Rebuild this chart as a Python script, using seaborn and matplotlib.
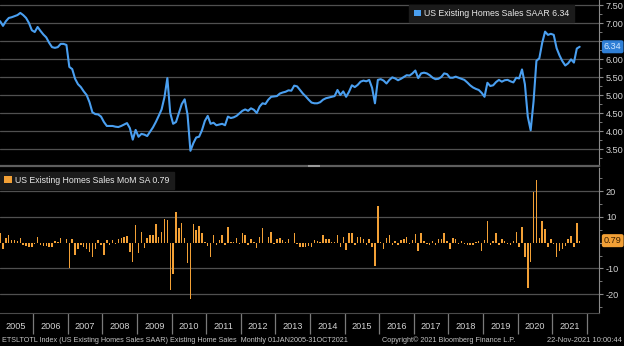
import numpy as np
import pandas as pd
import matplotlib
matplotlib.use("Agg")
import matplotlib.pyplot as plt
import seaborn as sns
from matplotlib.patches import Patch, Rectangle
from matplotlib.ticker import FixedLocator, MultipleLocator, FuncFormatter

# Monthly data, Jan 2005 - Oct 2021
start_year = 2005
sales_saar = [
    7.05, 6.92, 7.05, 7.14, 7.16, 7.19, 7.22, 7.28, 7.22, 7.14,
    7.00, 6.80, 6.75, 6.89, 6.78, 6.68, 6.60, 6.45, 6.33, 6.31,
    6.33, 6.42, 6.42, 6.39, 5.78, 5.72, 5.45, 5.30, 5.22, 5.10,
    5.00, 4.80, 4.52, 4.47, 4.46, 4.40, 4.25, 4.14, 4.14, 4.14,
    4.12, 4.11, 4.14, 4.18, 4.22, 4.08, 3.76, 4.03, 3.84, 3.92,
    3.90, 3.86, 3.98, 4.10, 4.25, 4.42, 4.60, 4.94, 5.47, 4.50,
    4.20, 4.25, 4.50, 4.75, 4.88, 4.45, 3.45, 3.66, 3.82, 3.84,
    4.02, 4.28, 4.42, 4.20, 4.23, 4.16, 4.18, 4.20, 4.16, 4.40,
    4.36, 4.38, 4.42, 4.49, 4.56, 4.60, 4.56, 4.63, 4.59, 4.50,
    4.68, 4.77, 4.75, 4.87, 4.95, 4.96, 4.97, 5.04, 5.07, 5.09,
    5.13, 5.12, 5.26, 5.24, 5.14, 5.04, 4.96, 4.87, 4.79, 4.77,
    4.77, 4.80, 4.87, 4.91, 4.93, 4.95, 4.97, 5.14, 5.00, 5.10,
    4.95, 5.09, 5.27, 5.22, 5.28, 5.37, 5.40, 5.38, 5.42, 5.20,
    4.77, 5.42, 5.44, 5.40, 5.32, 5.42, 5.49, 5.46, 5.41, 5.45,
    5.50, 5.55, 5.54, 5.60, 5.68, 5.47, 5.60, 5.62, 5.60, 5.55,
    5.48, 5.44, 5.45, 5.50, 5.60, 5.58, 5.48, 5.48, 5.51, 5.48,
    5.45, 5.42, 5.35, 5.27, 5.21, 5.17, 5.14, 5.06, 4.95, 5.34,
    5.25, 5.27, 5.36, 5.42, 5.37, 5.41, 5.42, 5.38, 5.35, 5.48,
    5.46, 5.71, 5.30, 4.40, 4.02, 4.82, 5.95, 6.02, 6.45, 6.76,
    6.67, 6.70, 6.67, 6.30, 6.10, 5.94, 5.82, 5.88, 5.99, 5.90,
    6.29, 6.34,
]
sales_mom = [
    3.6, -2.6, 1.7, 3.0, 1.0, 1.0, 0.5, 1.7, -1.0, -1.3,
    -1.5, -1.8, -0.6, 2.3, -0.9, -1.3, -1.3, -1.5, -1.8, 0.5,
    0.3, 1.7, -0.3, 1.3, -10.0, 1.3, -4.8, -2.6, -1.0, -1.5,
    -2.6, -3.5, -5.4, -2.6, 0.9, -0.8, -4.8, 0.9, -0.8, 0.9,
    -0.4, 1.3, 2.0, 2.3, 2.6, -3.5, -7.4, 6.9, -4.1, 4.3,
    -2.2, 1.7, 3.0, 3.0, 7.2, 2.3, 4.3, 9.2, 9.0, -18.4,
    -12.2, 12.0, 5.6, 7.8, 1.7, -8.0, -22.0, 7.2, 4.9, 6.5,
    3.9, 0.2, -1.2, -5.4, 3.0, -0.9, 1.0, 3.0, -0.8, 6.2,
    0.3, 0.4, 1.7, -0.5, 3.6, 3.0, -0.8, 1.6, 0.4, -2.2,
    2.3, 5.6, -0.3, 2.3, 4.0, -0.5, 1.6, 2.0, 1.0, 0.4,
    1.3, -0.3, 3.6, -0.4, -1.8, -1.8, -1.8, -1.3, -1.5, 1.0,
    0.8, 0.4, 2.8, 1.3, 1.3, 0.2, 0.3, 2.8, -1.8, 2.3,
    -2.8, 3.9, 3.9, -0.9, 2.3, 2.3, 1.6, -0.9, 1.5, -1.8,
    -9.0, 14.4, 0.3, -2.6, 1.8, 2.8, -0.9, 0.8, -1.0, 1.0,
    1.6, 2.3, -0.5, 1.0, 3.2, -3.4, 3.6, 0.8, -0.5, -1.0,
    0.8, -0.9, 1.3, 1.3, 3.6, 0.8, -2.3, 1.8, 1.3, -0.5,
    0.5, -0.5, -1.0, -0.8, -1.0, 0.1, 0.8, -3.1, 0.9, 8.4,
    -1.0, 0.8, 3.6, -0.8, 1.5, 0.8, -0.5, -0.8, 0.5, 4.1,
    -1.6, 6.0, -5.7, -17.7, -7.5, 19.5, 24.3, 1.7, 8.5, 5.2,
    -1.5, 1.3, -0.4, -5.7, -3.1, -2.3, -1.3, 1.6, 2.6, -1.5,
    7.5, 0.79,
]
year_labels = [str(y) for y in range(2005, 2022)]
saar_ticks = [3.5, 4.0, 4.5, 5.0, 5.5, 6.0, 6.5, 7.0, 7.5]
mom_ticks = [-20, -10, 0, 10, 20]

saar_name = "US Existing Homes Sales SAAR"
mom_name = "US Existing Homes Sales MoM SA"
footer_left = ("ETSLTOTL Index (US Existing Homes Sales SAAR) Existing Home Sales  "
               "Monthly 01JAN2005-31OCT2021")
footer_mid = "Copyright\u00a9 2021 Bloomberg Finance L.P."
footer_right = "22-Nov-2021 10:00:44"

n = len(sales_saar)
df = pd.DataFrame({
    "t": start_year + (np.arange(n) + 0.5) / 12.0,
    "saar": sales_saar,
    "mom": sales_mom,
})

BLUE = "#4a9ff0"
ORANGE = "#f2a036"
GRID = "#505050"
TXT = "#d2d2d2"
AXIS = "#8a8a8a"

sns.set_style("dark")
plt.rcParams["font.family"] = ["Liberation Sans", "DejaVu Sans"]
plt.rcParams["axes.facecolor"] = "black"
plt.rcParams["figure.facecolor"] = "black"

W, H = 624, 346
fig = plt.figure(figsize=(W / 100, H / 100), dpi=100, facecolor="black")
ax1 = fig.add_axes([0, (H - 166) / H, 599 / W, 166 / H])
ax2 = fig.add_axes([0, (H - 313) / H, 599 / W, 145 / H])

xlim = (2005.038, 2022.35)

# ---- upper panel: level series
sns.lineplot(data=df, x="t", y="saar", ax=ax1, color=BLUE, linewidth=1.5, zorder=3)
ax1.set_xlim(*xlim)
ax1.set_ylim(3.028, 7.639)
ax1.yaxis.tick_right()
ax1.yaxis.set_major_locator(FixedLocator(saar_ticks))
ax1.yaxis.set_minor_locator(MultipleLocator(0.25))
# the level tag covers the 6.50 label
ax1.yaxis.set_major_formatter(FuncFormatter(
    lambda v, p: "" if abs(v - 6.5) < 1e-6 else f"{v:.2f}"))
ax1.grid(axis="y", which="major", color=GRID, linewidth=0.9)
ax1.grid(axis="x", visible=False)
ax1.set_xticks([])
ax1.set_xlabel("")
ax1.set_ylabel("")

# ---- lower panel: month-over-month change bars
sns.barplot(data=df, x="t", y="mom", ax=ax2, native_scale=True, orient="x",
            color=ORANGE, saturation=1, width=0.5, errorbar=None, zorder=3,
            edgecolor="none", linewidth=0)
ax2.set_xlim(*xlim)
ax2.set_ylim(-27.3, 29.0)
ax2.yaxis.tick_right()
ax2.yaxis.set_major_locator(FixedLocator(mom_ticks))
ax2.yaxis.set_minor_locator(MultipleLocator(5))
# the change tag covers the 0 label
ax2.yaxis.set_major_formatter(FuncFormatter(
    lambda v, p: "" if abs(v) < 1e-6 else f"{v:.0f}"))
ax2.grid(False)
for v in mom_ticks:
    if v != 0:
        ax2.axhline(v, color=GRID, linewidth=0.9, zorder=1)
ax2.set_xlabel("")
ax2.set_ylabel("")

# year labels centred in each year, separators at year boundaries
ax2.xaxis.set_major_locator(FixedLocator([int(y) + 0.5 for y in year_labels]))
ax2.set_xticklabels(year_labels)
ax2.xaxis.set_minor_locator(FixedLocator(list(range(2006, 2023))))
ax2.tick_params(axis="x", which="major", bottom=True, length=0, pad=6.5,
                labelsize=6.6, labelcolor=TXT)
ax2.tick_params(axis="x", which="minor", bottom=True, length=15, width=0.9,
                color="#7a7a7a", direction="out")

for ax in (ax1, ax2):
    ax.set_facecolor("black")
    ax.tick_params(axis="y", which="both", right=True, left=False)
    ax.tick_params(axis="y", which="major", length=3, width=0.8, color=AXIS,
                   labelcolor=TXT, labelsize=6.6, pad=2, direction="out")
    ax.tick_params(axis="y", which="minor", length=2, width=0.6, color=AXIS, direction="out")
    for s in ("left", "top"):
        ax.spines[s].set_visible(False)
    ax.spines["right"].set_color(AXIS)
    ax.spines["right"].set_linewidth(0.8)

ax1.spines["bottom"].set_color("#5e5e5e")
ax1.spines["bottom"].set_linewidth(1.6)
ax1.add_patch(Rectangle((0.515, -0.006), 0.02, 0.012, transform=ax1.transAxes,
                        facecolor="#9a9a9a", edgecolor="none", clip_on=False, zorder=5))
ax2.spines["bottom"].set_color("#4a4a4a")
ax2.spines["bottom"].set_linewidth(0.8)

# legends
ax1.legend(handles=[Patch(facecolor=BLUE, edgecolor="none")],
           labels=[f"{saar_name} {sales_saar[-1]:.2f}"],
           loc="upper right", bbox_to_anchor=(0.958, 0.972),
           frameon=True, fancybox=False, facecolor="#1b1b1b", edgecolor="#1b1b1b",
           framealpha=1, fontsize=6.3, labelcolor="#e8e8e8",
           handlelength=0.85, handleheight=0.85, handletextpad=0.35,
           borderpad=0.5, borderaxespad=0)
ax2.legend(handles=[Patch(facecolor=ORANGE, edgecolor="none")],
           labels=[f"{mom_name} {sales_mom[-1]:.2f}"],
           loc="upper left", bbox_to_anchor=(0.0, 0.975),
           frameon=True, fancybox=False, facecolor="#1b1b1b", edgecolor="#1b1b1b",
           framealpha=1, fontsize=6.3, labelcolor="#e8e8e8",
           handlelength=0.85, handleheight=0.85, handletextpad=0.35,
           borderpad=0.5, borderaxespad=0)

# last-value tags on the right axis
ax1.annotate(f"{sales_saar[-1]:.2f}", xy=(1.0, sales_saar[-1]),
             xycoords=("axes fraction", "data"), xytext=(3.5, 0),
             textcoords="offset points", ha="left", va="center",
             fontsize=6.6, color="#cfe6ff", annotation_clip=False, zorder=10,
             bbox=dict(boxstyle="round,pad=0.22", facecolor="#2f7fd6", edgecolor="none"))
ax2.annotate(f"{sales_mom[-1]:.2f}", xy=(1.0, sales_mom[-1]),
             xycoords=("axes fraction", "data"), xytext=(3.5, 0),
             textcoords="offset points", ha="left", va="center",
             fontsize=6.6, color="#3a1e00", annotation_clip=False, zorder=10,
             bbox=dict(boxstyle="round,pad=0.22", facecolor=ORANGE, edgecolor="none"))

# footer
fy = 1 - 340 / H
fig.text(2 / W, fy, footer_left, fontsize=5.2, color="#c4c4c4", va="center", ha="left")
fig.text(382 / W, fy, footer_mid, fontsize=5.2, color="#c4c4c4", va="center", ha="left")
fig.text(622 / W, fy, footer_right, fontsize=5.4, color="#c4c4c4", va="center", ha="right")

fig.savefig("out.png", dpi=100, facecolor="black")
